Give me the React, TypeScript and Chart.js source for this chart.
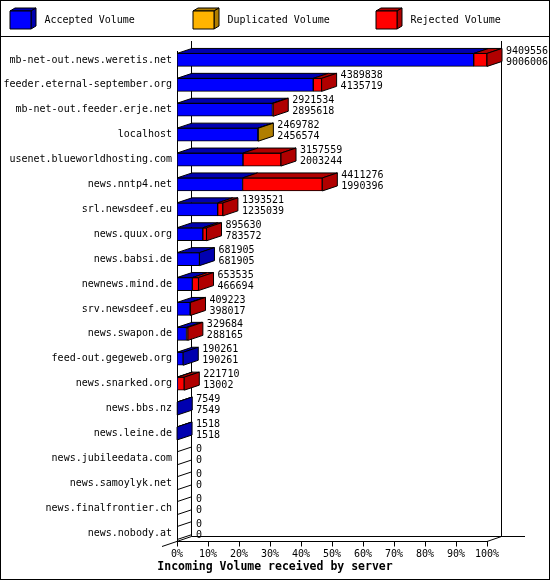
import React, { useEffect, useRef } from 'react';
import { Chart, registerables } from 'chart.js';

Chart.register(...registerables);

const categories = [
  'mb-net-out.news.weretis.net',
  'feeder.eternal-september.org',
  'mb-net-out.feeder.erje.net',
  'localhost',
  'usenet.blueworldhosting.com',
  'news.nntp4.net',
  'srl.newsdeef.eu',
  'news.quux.org',
  'news.babsi.de',
  'newnews.mind.de',
  'srv.newsdeef.eu',
  'news.swapon.de',
  'feed-out.gegeweb.org',
  'news.snarked.org',
  'news.bbs.nz',
  'news.leine.de',
  'news.jubileedata.com',
  'news.samoylyk.net',
  'news.finalfrontier.ch',
  'news.nobody.at',
];

const totalVolume = [
  9409556, 4389838, 2921534, 2469782, 3157559, 4411276, 1393521, 895630, 681905, 653535,
  409223, 329684, 190261, 221710, 7549, 1518, 0, 0, 0, 0,
];

const acceptedVolume = [
  9006006, 4135719, 2895618, 2456574, 2003244, 1990396, 1235039, 783572, 681905, 466694,
  398017, 288165, 190261, 13002, 7549, 1518, 0, 0, 0, 0,
];

const duplicatedVolume = [
  0, 0, 0, 13208, 0, 0, 0, 0, 0, 0,
  0, 0, 0, 0, 0, 0, 0, 0, 0, 0,
];

const rejectedVolume = [
  403550, 254119, 25916, 0, 1154315, 2420880, 158482, 112058, 0, 186841,
  11206, 41519, 0, 208708, 0, 0, 0, 0, 0, 0,
];

const seriesNames = ['Accepted Volume', 'Duplicated Volume', 'Rejected Volume'];
const percentTicks = [0, 10, 20, 30, 40, 50, 60, 70, 80, 90, 100];
const titleText = 'Incoming Volume received by server';

const FRONT = ['#0000ff', '#ffb400', '#ff0000'];
const SIDE = ['#0000b0', '#b07e00', '#b00000'];
const DX = 15;
const DY = 5;
const FONT = "'DejaVu Sans Mono', monospace";

function poly(ctx: CanvasRenderingContext2D, pts: number[][], fill: string | null) {
  ctx.beginPath();
  ctx.moveTo(pts[0][0], pts[0][1]);
  for (let i = 1; i < pts.length; i++) ctx.lineTo(pts[i][0], pts[i][1]);
  ctx.closePath();
  if (fill) {
    ctx.fillStyle = fill;
    ctx.fill();
  }
  ctx.strokeStyle = '#000';
  ctx.lineWidth = 1;
  ctx.stroke();
}

function line(ctx: CanvasRenderingContext2D, x1: number, y1: number, x2: number, y2: number) {
  ctx.beginPath();
  ctx.moveTo(x1, y1);
  ctx.lineTo(x2, y2);
  ctx.stroke();
}

export default function App() {
  const ref = useRef<HTMLCanvasElement>(null);

  useEffect(() => {
    document.body.style.margin = '0';
    const maxTotal = Math.max(...totalVolume);
    const series = [acceptedVolume, duplicatedVolume, rejectedVolume];

    const plugin = {
      id: 'volume3d',
      beforeDraw(chart: any) {
        const { ctx, width, height } = chart;
        ctx.save();
        ctx.fillStyle = '#fff';
        ctx.fillRect(0, 0, width, height);
        ctx.restore();
      },
      beforeDatasetsDraw(chart: any) {
        const { ctx, chartArea: a } = chart;
        const x = chart.scales.x;
        const L = Math.round(x.getPixelForValue(0));
        const R = Math.round(x.getPixelForValue(maxTotal));
        const fb = Math.round(a.bottom - 5) + 0.5;
        const bb = fb - DY;
        const topY = Math.round(a.top) - 7;
        ctx.save();
        ctx.strokeStyle = '#000';
        ctx.lineWidth = 1;
        line(ctx, L + 14.5, topY, L + 14.5, bb);
        line(ctx, R + 14.5, topY, R + 14.5, bb);
        line(ctx, L + 14.5, bb, R + 38, bb);
        line(ctx, L + 0.5, topY + 10, L + 0.5, fb);
        line(ctx, L, fb, R + 1, fb);
        line(ctx, L + 14.5, bb, L - 15, fb + 5);
        line(ctx, R + 14.5, bb, R, fb);
        percentTicks.forEach((p) => {
          const px = Math.round(x.getPixelForValue((p * maxTotal) / 100)) + 0.5;
          line(ctx, px, fb, px, fb + 5);
        });
        ctx.restore();
      },
      afterDatasetsDraw(chart: any) {
        const { ctx } = chart;
        const x = chart.scales.x;
        const metas = [0, 1, 2].map((d) => chart.getDatasetMeta(d));
        ctx.save();
        ctx.font = `10px ${FONT}`;
        ctx.textBaseline = 'middle';
        ctx.textAlign = 'left';
        categories.forEach((_, i) => {
          const segs: any[] = [];
          let yc = 0;
          let h = 13;
          metas.forEach((m, d) => {
            const el = m.data[i];
            const p = el.getProps(['x', 'base', 'y', 'height'], true);
            yc = p.y;
            h = p.height;
            if (series[d][i] > 0) {
              segs.push({ d, x0: p.base, x1: p.x, top: p.y - p.height / 2, bottom: p.y + p.height / 2 });
            }
          });
          const top = yc - h / 2;
          const bottom = yc + h / 2;
          if (segs.length === 0) {
            const x0 = x.getPixelForValue(0);
            ctx.strokeStyle = '#000';
            ctx.lineWidth = 1;
            line(ctx, x0, top, x0 + DX, top - DY);
            line(ctx, x0, bottom, x0 + DX, bottom - DY);
          } else {
            segs.forEach((s) => {
              poly(ctx, [[s.x0, s.top], [s.x1, s.top], [s.x1 + DX, s.top - DY], [s.x0 + DX, s.top - DY]], SIDE[s.d]);
            });
            const last = segs[segs.length - 1];
            poly(
              ctx,
              [[last.x1, last.top], [last.x1 + DX, last.top - DY], [last.x1 + DX, last.bottom - DY], [last.x1, last.bottom]],
              SIDE[last.d]
            );
          }
          const tx = x.getPixelForValue(totalVolume[i]) + DX + 4;
          ctx.fillStyle = '#000';
          ctx.fillText(String(totalVolume[i]), tx, yc - 9);
          ctx.fillText(String(acceptedVolume[i]), tx, yc + 2);
        });
        ctx.restore();
      },
      afterDraw(chart: any) {
        const { ctx, width, height } = chart;
        ctx.save();
        // legend
        const legendX = [10, 193, 376];
        seriesNames.forEach((name, k) => {
          const bx = legendX[k];
          const by = 11;
          const w = 21;
          const h = 18;
          poly(ctx, [[bx, by], [bx + w, by], [bx + w + 5, by - 3], [bx + 5, by - 3]], SIDE[k]);
          poly(ctx, [[bx + w, by], [bx + w + 5, by - 3], [bx + w + 5, by + h - 3], [bx + w, by + h]], SIDE[k]);
          poly(ctx, [[bx, by], [bx + w, by], [bx + w, by + h], [bx, by + h]], FRONT[k]);
          ctx.fillStyle = '#000';
          ctx.font = `10px ${FONT}`;
          ctx.textBaseline = 'middle';
          ctx.textAlign = 'left';
          ctx.fillText(name, bx + 34.5, 20.5);
        });
        ctx.strokeStyle = '#000';
        ctx.lineWidth = 1;
        line(ctx, 0, 36.5, width, 36.5);
        // title
        ctx.font = `bold 11.5px ${FONT}`;
        ctx.textAlign = 'center';
        ctx.textBaseline = 'middle';
        ctx.fillStyle = '#000';
        ctx.fillText(titleText, width / 2, 567);
        // frame
        ctx.strokeRect(0.5, 0.5, width - 1, height - 1);
        ctx.restore();
      },
    };

    Chart.defaults.font.family = FONT;
    Chart.defaults.font.size = 10;
    Chart.defaults.color = '#000';

    const chart = new Chart(ref.current as HTMLCanvasElement, {
      type: 'bar',
      data: {
        labels: categories,
        datasets: series.map((values, d) => ({
          label: seriesNames[d],
          data: values,
          backgroundColor: FRONT[d],
          borderColor: '#000',
          borderWidth: 1,
          borderSkipped: false,
          barThickness: 13,
        })),
      },
      options: {
        animation: false,
        responsive: false,
        devicePixelRatio: 1,
        indexAxis: 'y',
        events: [],
        layout: { padding: { top: 47.5, right: 63, bottom: 0, left: 0 } },
        plugins: {
          legend: { display: false },
          title: { display: false },
          tooltip: { enabled: false },
        },
        scales: {
          x: {
            stacked: true,
            min: 0,
            max: maxTotal,
            afterBuildTicks: (s: any) => {
              s.ticks = percentTicks.map((p) => ({ value: (p * maxTotal) / 100 }));
            },
            afterFit: (s: any) => {
              s.height = 34.5;
            },
            grid: { display: false, drawTicks: false },
            border: { display: false },
            ticks: {
              autoSkip: false,
              maxRotation: 0,
              padding: 3,
              color: '#000',
              font: { family: FONT, size: 10 },
              callback: (v: any) => Math.round((Number(v) / maxTotal) * 100) + '%',
            },
          },
          y: {
            stacked: true,
            afterFit: (s: any) => {
              s.width = 177;
            },
            grid: { display: false, drawTicks: false },
            border: { display: false },
            ticks: {
              autoSkip: false,
              padding: 5,
              color: '#000',
              font: { family: FONT, size: 10 },
            },
          },
        },
      } as any,
      plugins: [plugin],
    });
    return () => chart.destroy();
  }, []);

  return <canvas ref={ref} width={550} height={580} style={{ display: 'block', width: 550, height: 580 }} />;
}
